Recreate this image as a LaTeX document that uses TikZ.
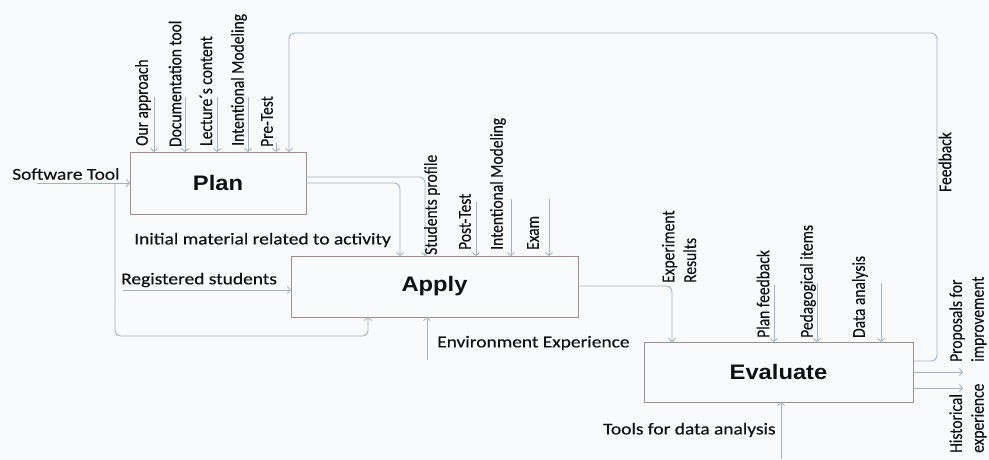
\documentclass[tikz,border=0pt]{standalone}
\usepackage{fontspec}
\newfontfamily\labf[FakeBold=0.3]{Carlito}
\newfontfamily\boxf{Liberation Sans}
\usetikzlibrary{arrows.meta}
\definecolor{bg}{HTML}{F8FAFB}
\definecolor{boxc}{HTML}{A08E8A}
\definecolor{linec}{HTML}{A3B3C0}
\definecolor{txt}{HTML}{101010}
\begin{document}
\begin{tikzpicture}[x=1pt,y=-1pt,
  box/.style={draw=boxc, line width=0.9pt, inner sep=0pt, outer sep=0pt,
    font=\boxf\bfseries\fontsize{21}{25}\selectfont, text=txt},
  lbl/.style={text=txt, inner sep=0pt, xscale=1.17},
  vlbl/.style={lbl, font=\labf\fontsize{15.5}{18.6}\selectfont, rotate=90, anchor=west, align=left},
  hlbl/.style={lbl, font=\labf\fontsize{16.6}{20}\selectfont, anchor=west},
  arr/.style={draw=linec, line width=0.85pt, -{Straight Barb[length=3pt,width=7pt]}},
  conn/.style={arr, rounded corners=6pt}]
\fill[bg] (0,0) rectangle (989,459);
\useasboundingbox (0,0) rectangle (989,459);

% boxes
\node[box, minimum width=176pt, minimum height=62pt] (plan) at (218,183) {\scalebox{1.13}[1]{Plan}};
\node[box, minimum width=287pt, minimum height=61pt] (apply) at (434.5,286.5) {\scalebox{1.13}[1]{Apply}};
\node[box, minimum width=269pt, minimum height=60pt] (eval) at (778.5,372) {\scalebox{1.13}[1]{Evaluate}};

% plan inputs
\coordinate (pa1) at (154,97);
\coordinate (pa2) at (185,97);
\coordinate (pa3) at (217,97);
\coordinate (pa4) at (248,97);
\coordinate (pa5) at (276,143);
\foreach \c in {pa1,pa2,pa3,pa4,pa5} \draw[arr] (\c) -- (\c |- plan.north);
\node[vlbl] (tOur) at (143,146) {Our approach};
\node[vlbl] (tDoc) at (175,147) {Documentation tool};
\node[vlbl] (tLec) at (206,146) {Lecture´s content};
\node[vlbl] (tIntA) at (239,146) {Intentional Modeling};
\node[vlbl] (tPre) at (267,147) {Pre-Test};

% software tool
\node[hlbl] (tSw) at (12,174) {Software Tool};
\coordinate (sw) at (37,183);
\draw[arr] (sw) -- (sw -| plan.west);
\coordinate (swb) at (115,183);
\coordinate (loopc) at (368,336);
\draw[conn] (swb) |- (loopc) -- (loopc |- apply.south);

% feedback loop
\coordinate (fbt) at (937,33);
\draw[conn] ([yshift=-19pt]eval.north east) -| (fbt) -| ([xshift=-17pt]plan.north east);
\node[vlbl] (tFb) at (945,192) {Feedback};

% plan -> apply
\draw[conn] ([yshift=-25pt]plan.north east) -| ([xshift=134pt]apply.north west);
\draw[conn] ([yshift=-31pt]plan.north east) -| ([xshift=109pt]apply.north west);
\node[hlbl] (tIni) at (134,240) {Initial material related to activity};
\node[vlbl] (tStu) at (432,255) {Students profile};

% apply inputs
\coordinate (ap1) at (476,202);
\coordinate (ap2) at (511,199);
\coordinate (ap3) at (549,199);
\foreach \c in {ap1,ap2,ap3} \draw[arr] (\c) -- (\c |- apply.north);
\node[vlbl] (tPost) at (465,250) {Post-Test};
\node[vlbl] (tIntB) at (498,250) {Intentional Modeling};
\node[vlbl] (tExam) at (533,250) {Exam};

\node[hlbl] (tReg) at (121,280) {Registered students};
\coordinate (rs) at (123,290);
\draw[arr] (rs) -- (rs -| apply.west);

\coordinate (ee) at (427,360);
\draw[arr] (ee) -- (ee |- apply.south);
\node[hlbl] (tEnv) at (437,343) {Environment Experience};

% apply -> evaluate
\draw[conn] ([yshift=-30pt]apply.north east) -| ([xshift=28pt]eval.north west);
\node[vlbl] (tExp) at (679,283) {Experiment\\Results};

% evaluate inputs
\coordinate (ev1) at (774,285);
\coordinate (ev2) at (817,283);
\coordinate (ev3) at (881,283);
\foreach \c in {ev1,ev2,ev3} \draw[arr] (\c) -- (\c |- eval.north);
\node[vlbl] (tPf) at (763,338) {Plan feedback};
\node[vlbl] (tPed) at (808,338) {Pedagogical items};
\node[vlbl] (tDa) at (860,338) {Data analysis};

% outputs
\coordinate (po) at (963,372);
\coordinate (he) at (963,388);
\draw[arr] (po -| eval.east) -- (po);
\draw[arr] (he -| eval.east) -- (he);
\node[vlbl] (tProp) at (968,362) {Proposals for\\improvement};
\node[vlbl] (tHist) at (968,453) {Historical\\experience};

% tools
\coordinate (td) at (781,459);
\draw[arr] (td) -- (td |- eval.south);
\node[hlbl] (tTool) at (603,430) {Tools for data analysis};
\end{tikzpicture}
\end{document}
